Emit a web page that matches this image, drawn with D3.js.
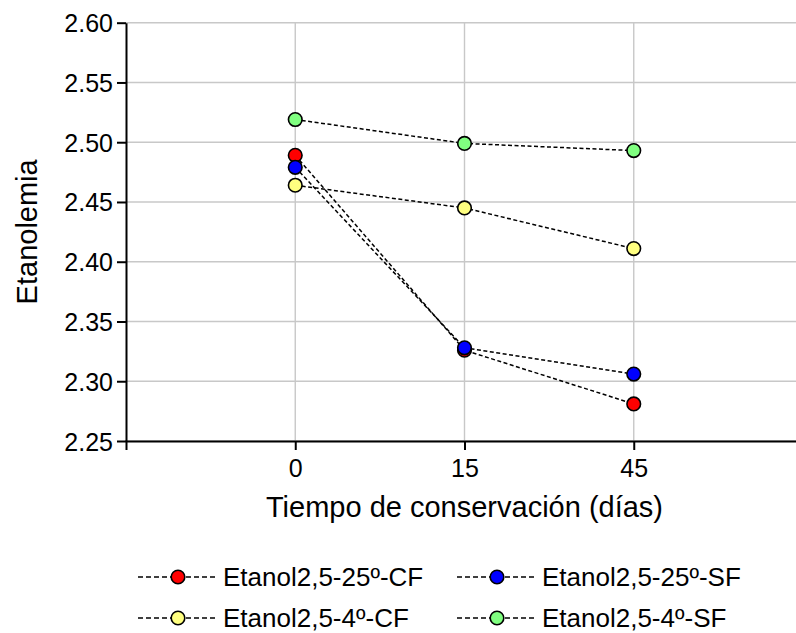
<!DOCTYPE html>
<html>
<head>
<meta charset="utf-8">
<script src="https://cdn.jsdelivr.net/npm/d3@7"></script>
<style>
  body { margin: 0; background: #fff; }
  text { font-family: "Liberation Sans", Arial, sans-serif; fill: #000; }
</style>
</head>
<body>
<div id="chart"></div>
<script>
// data
var days = ["0", "15", "45"];
var seriesNames = ["Etanol2,5-25º-CF", "Etanol2,5-25º-SF", "Etanol2,5-4º-CF", "Etanol2,5-4º-SF"];
var seriesColors = ["#ff0000", "#0000ff", "#ffff80", "#80ff80"];
var cf25 = [2.489, 2.326, 2.281];
var sf25 = [2.479, 2.328, 2.306];
var cf4 = [2.464, 2.445, 2.411];
var sf4 = [2.519, 2.499, 2.493];
var yTicks = [2.25, 2.30, 2.35, 2.40, 2.45, 2.50, 2.55, 2.60];

var seriesValues = [cf25, sf25, cf4, sf4];

var width = 796, height = 633;
var plotLeft = 126, plotRight = 803, plotTop = 22.7, plotBottom = 441;

var svg = d3.select("#chart").append("svg")
    .attr("width", width)
    .attr("height", height);

// set the ranges
var x = d3.scalePoint().domain(days).range([plotLeft, plotRight]).padding(1);
var y = d3.scaleLinear().domain([2.25, 2.60]).range([plotBottom, plotTop]);

// grid lines
svg.append("g")
    .selectAll("line")
    .data(yTicks)
    .enter().append("line")
    .attr("x1", plotLeft).attr("x2", plotRight)
    .attr("y1", function (d) { return y(d); })
    .attr("y2", function (d) { return y(d); })
    .style("stroke", "#c8c8c8")
    .style("stroke-width", 1.4);

svg.append("g")
    .selectAll("line")
    .data(days)
    .enter().append("line")
    .attr("x1", function (d) { return x(d); })
    .attr("x2", function (d) { return x(d); })
    .attr("y1", plotTop).attr("y2", plotBottom)
    .style("stroke", "#c8c8c8")
    .style("stroke-width", 1.4);

// axes
var xAxis = svg.append("g")
    .attr("transform", "translate(0," + plotBottom + ")")
    .call(d3.axisBottom(x).tickSize(9).tickSizeOuter(9).tickPadding(9));

var yAxis = svg.append("g")
    .attr("transform", "translate(" + plotLeft + ",0)")
    .call(d3.axisLeft(y).tickValues(yTicks).tickFormat(d3.format(".2f"))
        .tickSize(9).tickSizeOuter(0).tickPadding(4));

[xAxis, yAxis].forEach(function (g) {
    g.selectAll("path, line").style("stroke", "#000").style("stroke-width", 2);
    g.selectAll("text").style("font-size", "25px").style("font-family", "'Liberation Sans', Arial, sans-serif");
});
yAxis.selectAll("text").attr("dy", "0.36em");

// lines and points
var valueline = d3.line()
    .x(function (d, i) { return x(days[i]); })
    .y(function (d) { return y(d); });

seriesValues.forEach(function (vals) {
    svg.append("path")
        .datum(vals)
        .attr("d", valueline)
        .style("fill", "none")
        .style("stroke", "#000")
        .style("stroke-width", 1.5)
        .style("stroke-dasharray", "4,2.5");
});

seriesValues.forEach(function (vals, s) {
    svg.append("g").selectAll("circle")
        .data(vals)
        .enter().append("circle")
        .attr("cx", function (d, i) { return x(days[i]); })
        .attr("cy", function (d) { return y(d); })
        .attr("r", 6.8)
        .style("fill", seriesColors[s])
        .style("stroke", "#000")
        .style("stroke-width", 1.6);
});

// axis titles
svg.append("text")
    .attr("x", (plotLeft + plotRight) / 2)
    .attr("y", 517)
    .attr("text-anchor", "middle")
    .style("font-size", "29px")
    .text("Tiempo de conservación (días)");

svg.append("text")
    .attr("transform", "translate(37," + ((plotTop + plotBottom) / 2) + ") rotate(-90)")
    .attr("text-anchor", "middle")
    .style("font-size", "29px")
    .text("Etanolemia");

// legend
var legendPos = [[138, 577], [457, 577], [138, 618], [457, 618]];
seriesNames.forEach(function (name, s) {
    var g = svg.append("g")
        .attr("transform", "translate(" + legendPos[s][0] + "," + legendPos[s][1] + ")");
    g.append("line")
        .attr("x1", 0).attr("x2", 79)
        .attr("y1", 0).attr("y2", 0)
        .style("stroke", "#000")
        .style("stroke-width", 1.5)
        .style("stroke-dasharray", "5,3");
    g.append("circle")
        .attr("cx", 40).attr("cy", 0).attr("r", 6.8)
        .style("fill", seriesColors[s])
        .style("stroke", "#000")
        .style("stroke-width", 1.6);
    g.append("text")
        .attr("x", 85).attr("y", 0)
        .attr("dy", "0.33em")
        .style("font-size", "26px")
        .text(name);
});
</script>
</body>
</html>
